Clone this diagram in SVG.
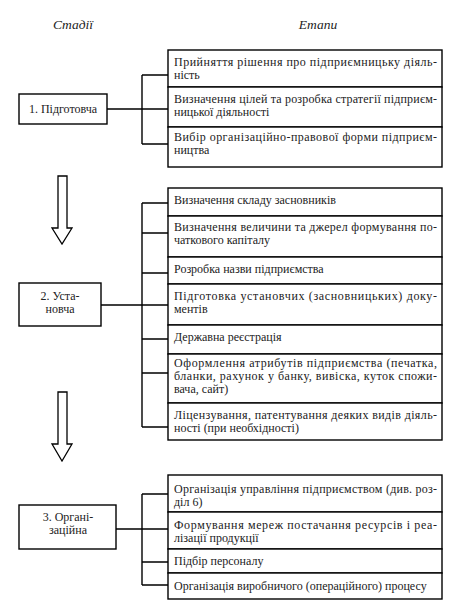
<svg xmlns="http://www.w3.org/2000/svg" width="467" height="611" viewBox="0 0 467 611" font-family="'Liberation Serif', 'Times New Roman', 'DejaVu Serif', serif">
<style>
.box{fill:#fff;stroke:#000;stroke-width:1.4}
text{font-family:'Liberation Serif','Times New Roman','DejaVu Serif',serif}
.t{font-size:12px;fill:#222}
.c{text-anchor:middle}
.h{font-size:13.5px;font-style:italic;fill:#222;text-anchor:middle}
.ln{stroke:#000;stroke-width:1.4;fill:none}
.ar{fill:#fff;stroke:#000;stroke-width:1.3;stroke-linejoin:miter}
</style>
<rect width="467" height="611" fill="#fff"/>
<text class="h" x="73" y="29">Стадії</text>
<text class="h" x="318" y="29">Етапи</text>

<g id="connectors">
<path class="ln" d="M142,75V144M142,75H168M107,109H168M142,144H168"/>
<path class="ln" d="M142,203V427M142,203H168M142,233H168M142,273H168M101,305H168M142,339H168M142,373H168M142,427H168"/>
<path class="ln" d="M142,494V585M142,494H168M116,529H168M142,562H168M142,585H168"/>
<polygon class="ar" points="58,176 67,176 67,228 72,228 62,244 52,228 58,228"/>
<polygon class="ar" points="58,392 67,392 67,444 72,444 62,461 52,444 58,444"/>
</g>

<g id="stage1"><rect class="box" x="19" y="94" width="88" height="30"/><text class="t c" x="63" y="113">1. Підготовча</text></g>
<g id="stage2"><rect class="box" x="19" y="283" width="82" height="43"/><text class="t c" x="60" y="300">2. Уста-</text><text class="t c" x="60" y="313">новча</text></g>
<g id="stage3"><rect class="box" x="19" y="505" width="97" height="44"/><text class="t c" x="68" y="521">3. Органі-</text><text class="t c" x="68" y="534">заційна</text></g>

<g id="s1a"><rect class="box" x="168" y="50" width="274" height="37"/><text class="t" x="174" y="66" textLength="263" lengthAdjust="spacing">Прийняття рішення про підприємницьку діяль-</text><text class="t" x="174" y="79">ність</text></g>
<g id="s1b"><rect class="box" x="168" y="87" width="274" height="40"/><text class="t" x="174" y="103" textLength="263" lengthAdjust="spacing">Визначення цілей та розробка стратегії підприєм-</text><text class="t" x="174" y="116">ницької діяльності</text></g>
<g id="s1c"><rect class="box" x="168" y="127" width="274" height="40"/><text class="t" x="174" y="140.5" textLength="263" lengthAdjust="spacing">Вибір організаційно-правової форми підприєм-</text><text class="t" x="174" y="153.5">ництва</text></g>

<g id="s2a"><rect class="box" x="168" y="188" width="274" height="28"/><text class="t" x="174" y="204">Визначення складу засновників</text></g>
<g id="s2b"><rect class="box" x="168" y="216" width="274" height="41"/><text class="t" x="174" y="231" textLength="263" lengthAdjust="spacing">Визначення величини та джерел формування по-</text><text class="t" x="174" y="244">чаткового капіталу</text></g>
<g id="s2c"><rect class="box" x="168" y="257" width="274" height="27"/><text class="t" x="174" y="273">Розробка назви підприємства</text></g>
<g id="s2d"><rect class="box" x="168" y="284" width="274" height="41"/><text class="t" x="174" y="300" textLength="263" lengthAdjust="spacing">Підготовка установчих (засновницьких) доку-</text><text class="t" x="174" y="313">ментів</text></g>
<g id="s2e"><rect class="box" x="168" y="325" width="274" height="29"/><text class="t" x="174" y="341">Державна реєстрація</text></g>
<g id="s2f"><rect class="box" x="168" y="354" width="274" height="49"/><text class="t" x="174" y="367" textLength="263" lengthAdjust="spacing">Оформлення атрибутів підприємства (печатка,</text><text class="t" x="174" y="380" textLength="263" lengthAdjust="spacing">бланки, рахунок у банку, вивіска, куток спожи-</text><text class="t" x="174" y="393">вача, сайт)</text></g>
<g id="s2g"><rect class="box" x="168" y="403" width="274" height="37"/><text class="t" x="174" y="419" textLength="263" lengthAdjust="spacing">Ліцензування, патентування деяких видів діяль-</text><text class="t" x="174" y="432">ності (при необхідності)</text></g>

<g id="s3a"><rect class="box" x="168" y="475" width="274" height="37"/><text class="t" x="174" y="492.5" textLength="263" lengthAdjust="spacing">Організація управління підприємством (див. роз-</text><text class="t" x="174" y="505.5">діл 6)</text></g>
<g id="s3b"><rect class="box" x="168" y="512" width="274" height="37"/><text class="t" x="174" y="529" textLength="263" lengthAdjust="spacing">Формування мереж постачання ресурсів і реа-</text><text class="t" x="174" y="542">лізації продукції</text></g>
<g id="s3c"><rect class="box" x="168" y="549" width="274" height="24"/><text class="t" x="174" y="565">Підбір персоналу</text></g>
<g id="s3d"><rect class="box" x="168" y="573" width="274" height="26"/><text class="t" x="174" y="589.5">Організація виробничого (операційного) процесу</text></g>
</svg>
